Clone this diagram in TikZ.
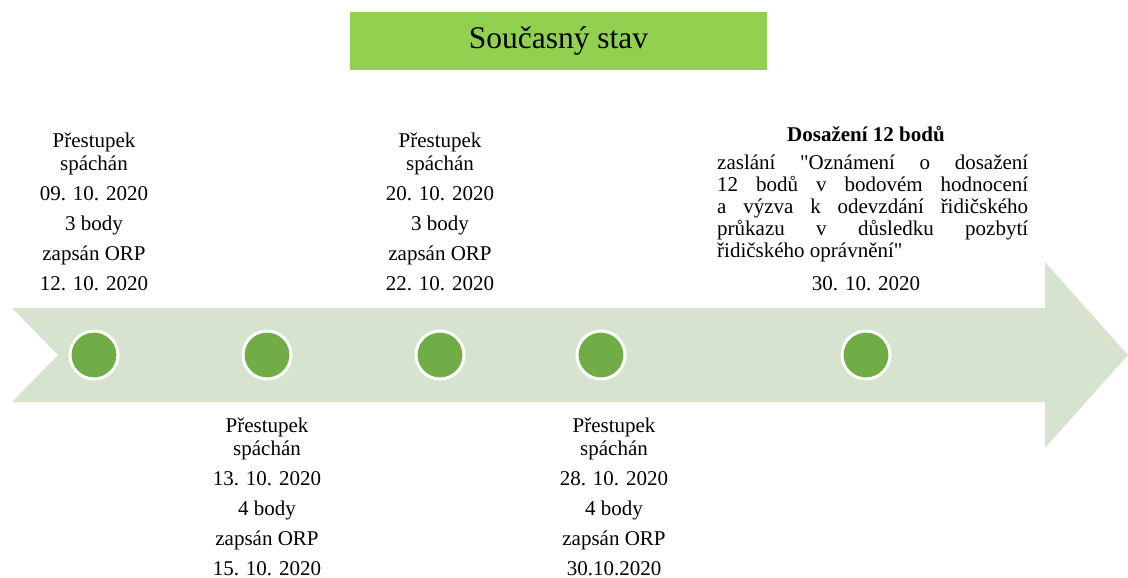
\documentclass[tikz,border=0pt]{standalone}
\usepackage{fontspec}
\setmainfont{Liberation Serif}
\newfontfamily\plainserif{Liberation Serif}
\definecolor{arrowgreen}{RGB}{214,227,207}
\definecolor{dotgreen}{RGB}{112,173,71}
\definecolor{titlegreen}{RGB}{146,208,80}
\tikzset{
  dot/.style={circle, fill=dotgreen, draw=white, line width=3pt, minimum size=48pt, inner sep=0pt},
  evtxt/.style={align=center, inner sep=0pt, font=\fontsize{21}{23}\selectfont},
}
\newcommand{\jline}[1]{\hbox to 311pt{#1}}
\newcommand{\gap}{\hskip 5pt plus 1fil\relax}
\newcommand{\sq}{{\plainserif"}}
\begin{document}
\begin{tikzpicture}[x=1pt,y=-1pt]
\useasboundingbox (0,0) rectangle (1128,578);
% title
\node[fill=titlegreen, minimum width=417pt, minimum height=58pt, inner sep=0pt,
      font=\fontsize{31.5}{34}\selectfont] (title) at (558.5,41) {Současný stav};
% arrow
\fill[arrowgreen] (12,308) -- (1045,308) -- (1045,262) -- (1128,355) -- (1045,448)
  -- (1045,402) -- (12,402) -- (58,355) -- cycle;
% dots
\node[dot] (d1) at (94,355) {};
\node[dot] (d2) at (267,355) {};
\node[dot] (d3) at (440,355) {};
\node[dot] (d4) at (601,355) {};
\node[dot] (d5) at (866,355) {};
% event texts
\node[evtxt] (t1) at (94,212) {Přestupek\\spáchán\\[7pt]09. 10. 2020\\[7pt]3 body\\[7pt]zapsán ORP\\[7pt]12. 10. 2020};
\node[evtxt] (t2) at (267,497) {Přestupek\\spáchán\\[7pt]13. 10. 2020\\[7pt]4 body\\[7pt]zapsán ORP\\[7pt]15. 10. 2020};
\node[evtxt] (t3) at (440,212) {Přestupek\\spáchán\\[7pt]20. 10. 2020\\[7pt]3 body\\[7pt]zapsán ORP\\[7pt]22. 10. 2020};
\node[evtxt] (t4) at (614,497) {Přestupek\\spáchán\\[7pt]28. 10. 2020\\[7pt]4 body\\[7pt]zapsán ORP\\[7pt]30.10.2020};
% final event
\node[evtxt, font=\fontsize{21}{23}\selectfont\bfseries] (t5h) at (866,134) {Dosažení 12 bodů};
\node[anchor=north west, inner sep=0pt, font=\fontsize{21}{22}\selectfont] (t5p) at (717,155)
  {\parbox{311pt}{\baselineskip=22pt
   \jline{zaslání\gap\sq Oznámení\gap o\gap dosažení}
   \jline{12\gap bodů\gap v\gap bodovém\gap hodnocení}
   \jline{a\gap výzva\gap k\gap odevzdání\gap řidičského}
   \jline{průkazu\gap v\gap důsledku\gap pozbytí}
   \hbox{řidičského oprávnění\sq}}};
\node[evtxt] (t5d) at (866,284) {30. 10. 2020};
\end{tikzpicture}
\end{document}
